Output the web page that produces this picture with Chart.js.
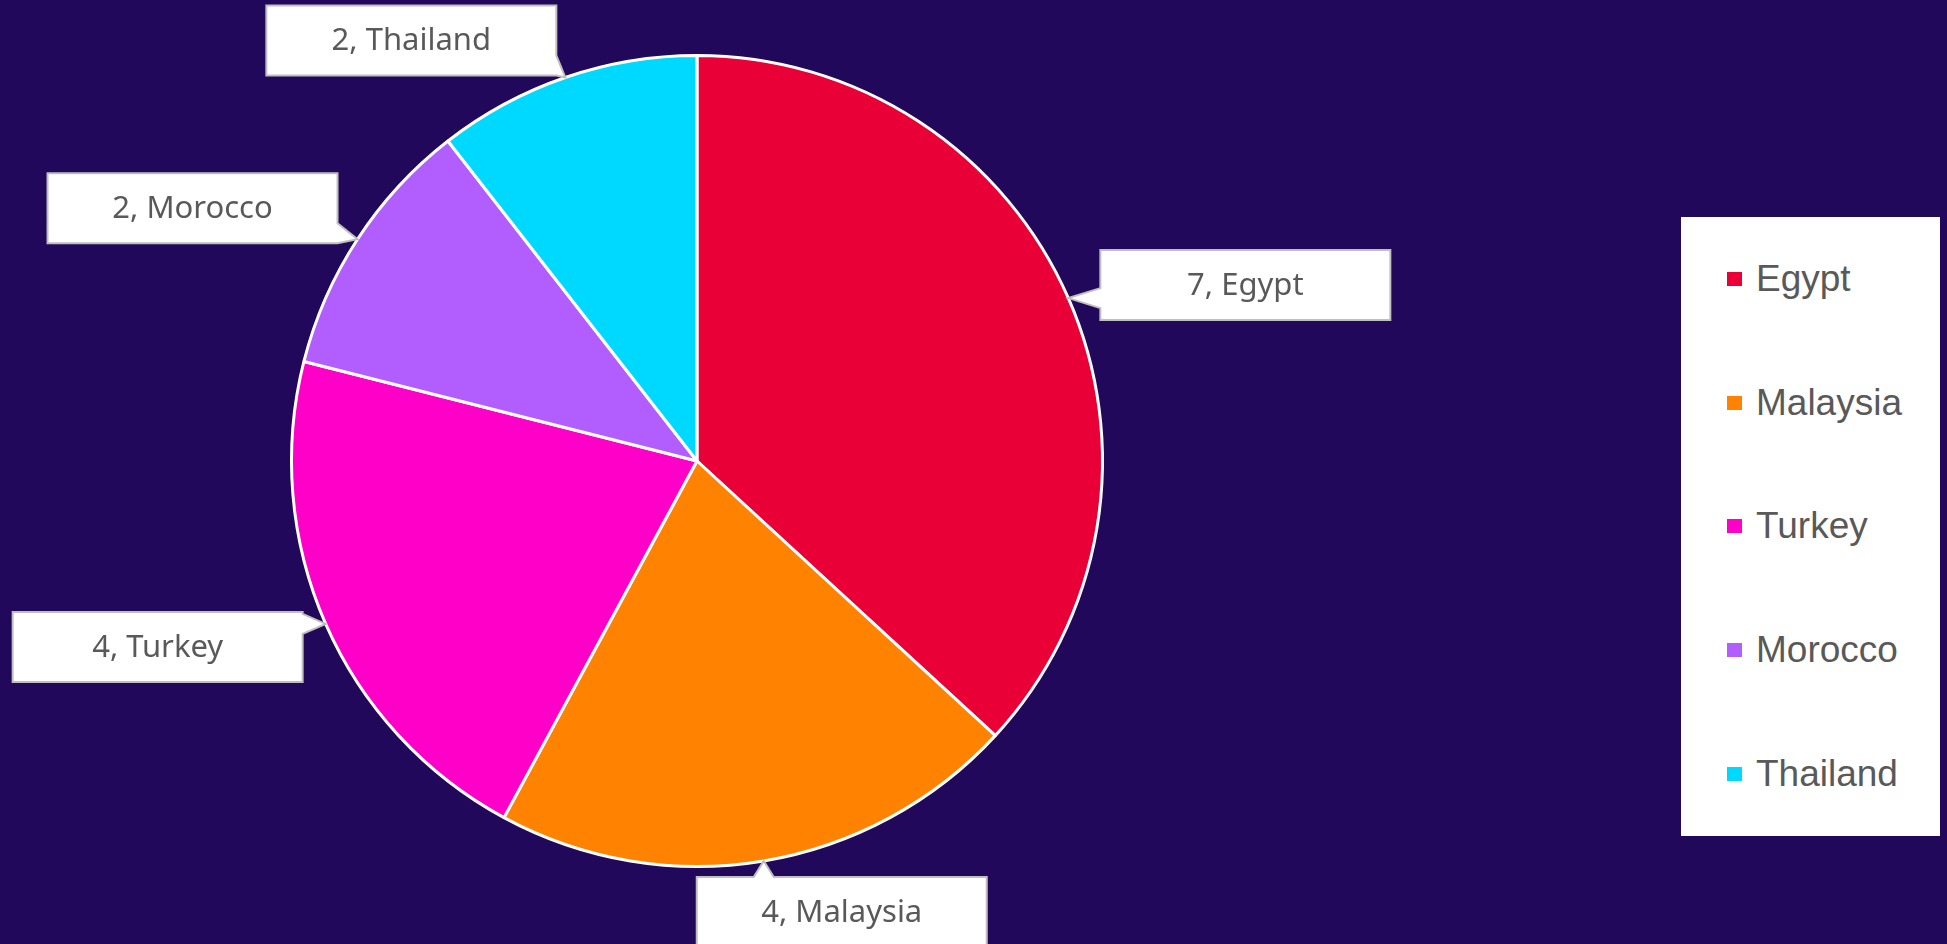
<!DOCTYPE html>
<html>
<head>
<meta charset="utf-8">
<script src="https://cdn.jsdelivr.net/npm/chart.js@4/dist/chart.umd.min.js"></script>
<style>
  html, body { margin: 0; padding: 0; background: #22085a; overflow: hidden; }
  #wrap { position: relative; width: 1947px; height: 944px; }
  #legend {
    position: absolute; left: 1681px; top: 217px; width: 259px; height: 619px;
    background: #ffffff; display: flex; flex-direction: column;
  }
  .item {
    flex: 1; display: flex; align-items: center; padding-left: 46px;
    font-family: "Liberation Sans", Arial, sans-serif; font-size: 37px; color: #595959;
  }
  .sw { width: 15px; height: 14px; margin-right: 14px; }
</style>
</head>
<body>
<div id="wrap">
  <canvas id="pieChart" width="1947" height="944"></canvas>
  <div id="legend"></div>
</div>
<script>
// landen en aantallen
var countries = ['Egypt', 'Malaysia', 'Turkey', 'Morocco', 'Thailand'];
var counts = [7, 4, 4, 2, 2];
var sliceColors = ['#e80036', '#ff8200', '#ff00c8', '#b25eff', '#00d9ff'];

// waar de callout staat t.o.v. de rand van het stuk (dx, dy)
var calloutOffsets = [[177, -13], [78, 51], [-168, 23], [-165, -31], [-154, -37]];

// legenda zelf opbouwen
var legend = document.getElementById('legend');
countries.forEach(function (name, i) {
    var row = document.createElement('div');
    row.className = 'item';
    row.innerHTML = '<span class="sw" style="background:' + sliceColors[i] + '"></span>' + name;
    legend.appendChild(row);
});

function calloutPath(ctx, L, T, R, B, tip) {
    var w = 20, side;
    if (tip.x < L) side = 'left';
    else if (tip.x > R) side = 'right';
    else if (tip.y < T) side = 'top';
    else side = 'bottom';
    function clamp(v, a, b) { return Math.max(a, Math.min(b, v)); }
    var by0 = clamp(tip.y - w / 2, T, B - w), by1 = by0 + w;
    var bx0 = clamp(tip.x - w / 2, L, R - w), bx1 = bx0 + w;
    ctx.beginPath();
    ctx.moveTo(L, T);
    if (side === 'top') { ctx.lineTo(bx0, T); ctx.lineTo(tip.x, tip.y); ctx.lineTo(bx1, T); }
    ctx.lineTo(R, T);
    if (side === 'right') { ctx.lineTo(R, by0); ctx.lineTo(tip.x, tip.y); ctx.lineTo(R, by1); }
    ctx.lineTo(R, B);
    if (side === 'bottom') { ctx.lineTo(bx1, B); ctx.lineTo(tip.x, tip.y); ctx.lineTo(bx0, B); }
    ctx.lineTo(L, B);
    if (side === 'left') { ctx.lineTo(L, by1); ctx.lineTo(tip.x, tip.y); ctx.lineTo(L, by0); }
    ctx.closePath();
}

var callouts = {
    id: 'callouts',
    afterDatasetsDraw: function (chart) {
        var ctx = chart.ctx;
        var meta = chart.getDatasetMeta(0);
        var bw = 290, bh = 70;
        ctx.save();
        meta.data.forEach(function (arc, i) {
            var p = arc.getProps(['x', 'y', 'startAngle', 'endAngle', 'outerRadius'], true);
            var mid = (p.startAngle + p.endAngle) / 2;
            var tip = { x: p.x + Math.cos(mid) * p.outerRadius, y: p.y + Math.sin(mid) * p.outerRadius };
            var cx = tip.x + calloutOffsets[i][0], cy = tip.y + calloutOffsets[i][1];
            var L = cx - bw / 2, R = cx + bw / 2, T = cy - bh / 2, B = cy + bh / 2;
            calloutPath(ctx, L, T, R, B, tip);
            ctx.fillStyle = '#ffffff';
            ctx.fill();
            ctx.lineWidth = 2;
            ctx.strokeStyle = '#bfbfbf';
            ctx.stroke();
            ctx.fillStyle = '#595959';
            ctx.font = '31px "Noto Sans", "Open Sans", sans-serif';
            ctx.textAlign = 'center';
            ctx.textBaseline = 'middle';
            ctx.fillText(counts[i] + ', ' + countries[i], cx, cy + 1);
        });
        ctx.restore();
    }
};

var ctx = document.getElementById('pieChart').getContext('2d');
var myChart = new Chart(ctx, {
    type: 'pie',
    data: {
        labels: countries,
        datasets: [{
            data: counts,
            backgroundColor: sliceColors,
            borderColor: '#ffffff',
            borderWidth: 3
        }]
    },
    options: {
        responsive: false,
        animation: false,
        layout: { padding: { top: 54, bottom: 76, left: 290, right: 843 } },
        plugins: {
            legend: { display: false },
            tooltip: { enabled: false }
        }
    },
    plugins: [callouts]
});
</script>
</body>
</html>
